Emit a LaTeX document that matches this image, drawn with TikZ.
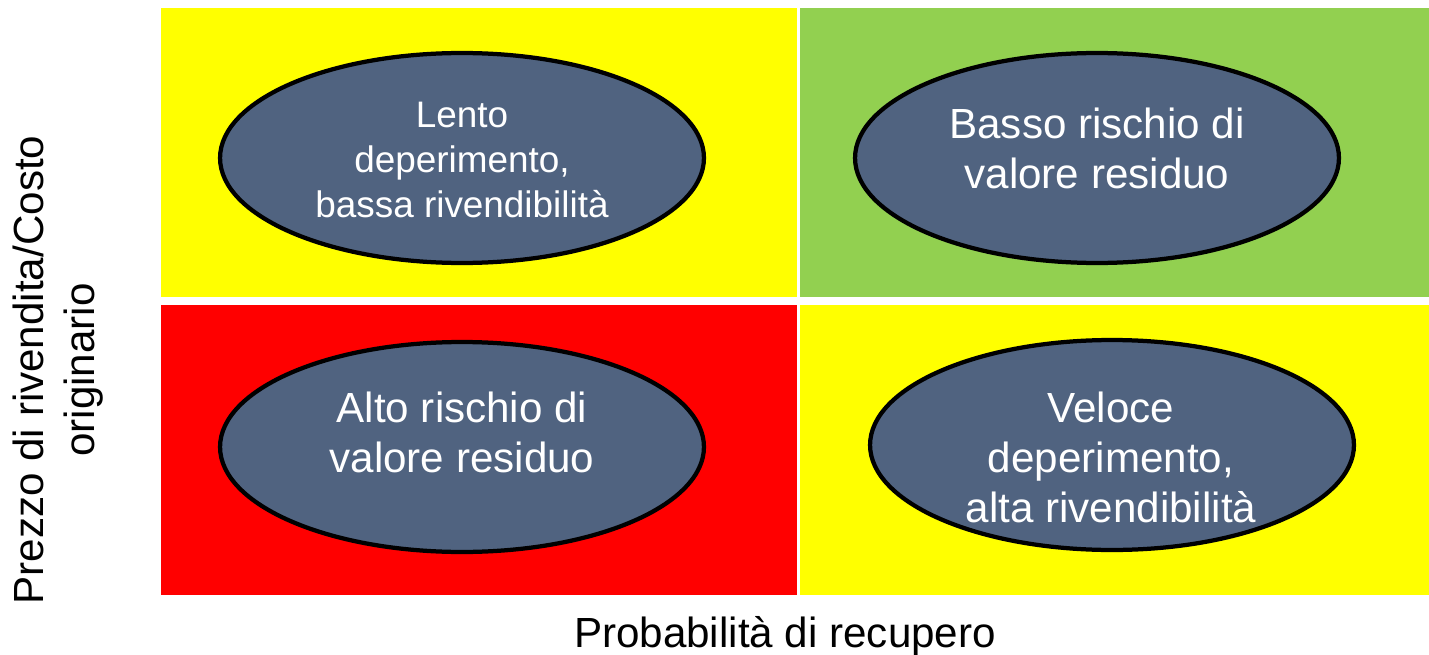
\documentclass[tikz,border=0pt]{standalone}
\usepackage{fontspec}
\setmainfont{Liberation Sans}
\usetikzlibrary{shapes.geometric}
\definecolor{slate}{RGB}{80,99,128}
\definecolor{leafgreen}{RGB}{146,208,80}
\definecolor{signyellow}{RGB}{255,255,0}
\definecolor{signred}{RGB}{255,0,0}

\begin{document}
\begin{tikzpicture}[x=0.02cm,y=-0.02cm,
		blob/.style={ellipse,draw=black,line width=0.085cm,fill=slate,
			minimum width=9.68cm,minimum height=4.2cm,inner sep=0pt},
		blobtext/.style={text=white,align=center,inner sep=0pt,
			font=\fontsize{24}{28.5}\selectfont},
		axislabel/.style={inner sep=0pt,align=center,
			font=\fontsize{24}{29}\selectfont}]
		\useasboundingbox (0,0) rectangle (1429,655);

		% Quadrants
		\fill[signyellow] (161,8) rectangle (797,297);
		\fill[leafgreen] (800,8) rectangle (1429,297);
		\fill[signred] (161,305) rectangle (797,595);
		\fill[signyellow] (800,305) rectangle (1429,595);

		% Top row
		\node[blob] (lento) at (462,158) {};
		\node[blobtext,font=\fontsize{21}{25.6}\selectfont] (lentotxt) at (462,160)
			{Lento\\deperimento,\\bassa rivendibilità};
		\node[blob] (basso) at (1097,158) {};
		\node[blobtext] (bassotxt) at (1097,148) {Basso rischio di\\valore residuo};

		% Bottom row
		\node[blob] (alto) at (462,447) {};
		\node[blobtext] (altotxt) at (462,432) {Alto rischio di\\valore residuo};
		\node[blob] (veloce) at (1112,445) {};
		\node[blobtext] (velocetxt) at (1111,457)
			{Veloce\\deperimento,\\alta rivendibilità};

		% Axis labels
		\node[axislabel] (xlab) at (785,636) {Probabilità di recupero};
		\node[axislabel,rotate=90] (ylab) at (58,370)
			{Prezzo di rivendita/Costo\\originario};
	\end{tikzpicture}
\end{document}
